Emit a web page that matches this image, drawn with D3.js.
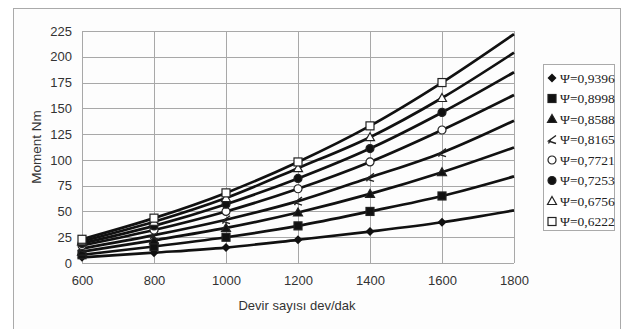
<!DOCTYPE html>
<meta charset="utf-8">
<style>
body { margin: 0; background: #fff; }
text { font-family: "Liberation Sans", Arial, sans-serif; fill: #333; }
.axis text { font-size: 13px; }
.legend text { font-family: "Liberation Serif", "Times New Roman", serif; font-size: 13.5px; fill: #222; }
</style>
<svg width="625" height="329"></svg>
<script src="https://d3js.org/d3.v7.min.js"></script>
<script>

// rpm values (markers at 600..1600, fitted line goes on to 1800)
var rpm = [600, 800, 1000, 1200, 1400, 1600, 1800];
var markerCount = 6;

var labels = ["Ψ=0,9396", "Ψ=0,8998", "Ψ=0,8588", "Ψ=0,8165",
              "Ψ=0,7721", "Ψ=0,7253", "Ψ=0,6756", "Ψ=0,6222"];
var shapes = ["diamond", "squareF", "triangleF", "cross", "circleO", "circleF", "triangleO", "squareO"];

var psi9396 = [5.5, 10, 15, 22.5, 30.5, 39.5, 51];
var psi8998 = [8, 16, 25, 36, 50, 65, 84];
var psi8588 = [11, 22, 34, 49, 67, 88, 112];
var psi8165 = [14, 27, 42, 60, 83, 107, 138];
var psi7721 = [17, 32, 50, 72, 98, 129, 163];
var psi7253 = [19, 36, 57, 82, 111, 146, 185];
var psi6756 = [21, 40, 63, 92, 122, 160, 204];
var psi6222 = [23, 43.5, 68, 98, 133, 175, 222];

var series = [psi9396, psi8998, psi8588, psi8165, psi7721, psi7253, psi6756, psi6222];

var xTicks = [600, 800, 1000, 1200, 1400, 1600, 1800];
var yTicks = [0, 25, 50, 75, 100, 125, 150, 175, 200, 225];

var svg = d3.select("svg");

// outer chart frame
svg.append("rect")
  .attr("x", 13.5).attr("y", 8.5)
  .attr("width", 607).attr("height", 330)
  .attr("fill", "#fdfdfd").attr("stroke", "#aaa");

var margin = {left: 82, top: 31, right: 111, bottom: 66},
    width = 625 - margin.left - margin.right,
    height = 329 - margin.top - margin.bottom;

var g = svg.append("g").attr("transform", "translate(" + margin.left + "," + margin.top + ")");

var x = d3.scaleLinear().domain([600, 1800]).range([0, width]);
var y = d3.scaleLinear().domain([0, 225]).range([height, 0]);

// grid
g.selectAll(".hgrid").data(yTicks).enter().append("line")
  .attr("x1", 0).attr("x2", width)
  .attr("y1", function(d) { return Math.round(y(d)) + 0.5; })
  .attr("y2", function(d) { return Math.round(y(d)) + 0.5; })
  .attr("stroke", "#a8a8a8");
g.selectAll(".vgrid").data(xTicks).enter().append("line")
  .attr("y1", 0).attr("y2", height)
  .attr("x1", function(d) { return Math.round(x(d)) + 0.5; })
  .attr("x2", function(d) { return Math.round(x(d)) + 0.5; })
  .attr("stroke", "#a8a8a8");

// axes (labels only)
var yAxis = g.append("g").attr("class", "axis")
  .call(d3.axisLeft(y).tickValues(yTicks).tickSize(0).tickPadding(10));
yAxis.select(".domain").remove();

var xAxis = g.append("g").attr("class", "axis")
  .attr("transform", "translate(0," + height + ")")
  .call(d3.axisBottom(x).tickValues(xTicks).tickFormat(d3.format("d")).tickSize(0).tickPadding(13));
xAxis.select(".domain").remove();

svg.append("text")
  .attr("transform", "translate(41," + (margin.top + height / 2) + ") rotate(-90)")
  .attr("text-anchor", "middle")
  .attr("font-size", 13.5)
  .text("Moment Nm");

svg.append("text")
  .attr("x", margin.left + width / 2 - 1)
  .attr("y", 310)
  .attr("text-anchor", "middle")
  .attr("font-size", 13)
  .text("Devir sayısı dev/dak");

// lines
var line = d3.line()
  .x(function(d, i) { return x(rpm[i]); })
  .y(function(d) { return y(d); })
  .curve(d3.curveMonotoneX);

g.selectAll(".series").data(series).enter().append("path")
  .attr("d", line)
  .attr("fill", "none")
  .attr("stroke", "#111")
  .attr("stroke-width", 2.7);

// marker drawing
function drawMarker(sel, shape) {
  var s = 4;
  if (shape === "diamond") {
    sel.append("path").attr("d", "M0,-4.5L4.5,0L0,4.5L-4.5,0Z").attr("fill", "#111");
  } else if (shape === "squareF" || shape === "squareO") {
    sel.append("rect").attr("x", -s).attr("y", -s).attr("width", 2 * s).attr("height", 2 * s)
      .attr("fill", shape === "squareF" ? "#111" : "#fff").attr("stroke", "#222").attr("stroke-width", 1.2);
  } else if (shape === "triangleF" || shape === "triangleO") {
    sel.append("path").attr("d", "M0,-4.5L4.5,3.5L-4.5,3.5Z")
      .attr("fill", shape === "triangleF" ? "#111" : "#fff").attr("stroke", "#222").attr("stroke-width", 1.2);
  } else if (shape === "circleF" || shape === "circleO") {
    sel.append("circle").attr("r", 4)
      .attr("fill", shape === "circleF" ? "#111" : "#fff").attr("stroke", "#222").attr("stroke-width", 1.2);
  } else if (shape === "cross") {
    sel.append("path").attr("d", "M4,-4L-3.5,1.5L4,4M-1,-0.5L-3.5,4")
      .attr("fill", "none").attr("stroke", "#222").attr("stroke-width", 1.4);
  }
}

series.forEach(function(vals, k) {
  vals.slice(0, markerCount).forEach(function(v, i) {
    var m = g.append("g").attr("transform", "translate(" + x(rpm[i]) + "," + y(v) + ")");
    drawMarker(m, shapes[k]);
  });
});

// legend
var legend = svg.append("g").attr("class", "legend");
legend.append("rect")
  .attr("x", 543.5).attr("y", 64.5)
  .attr("width", 71).attr("height", 166)
  .attr("fill", "#fff").attr("stroke", "#aaa");

labels.forEach(function(lab, k) {
  var ly = 78 + k * 20.5;
  var m = legend.append("g").attr("transform", "translate(552," + ly + ")");
  drawMarker(m, shapes[k]);
  legend.append("text").attr("x", 560).attr("y", ly + 4.5).text(lab);
});

</script>
